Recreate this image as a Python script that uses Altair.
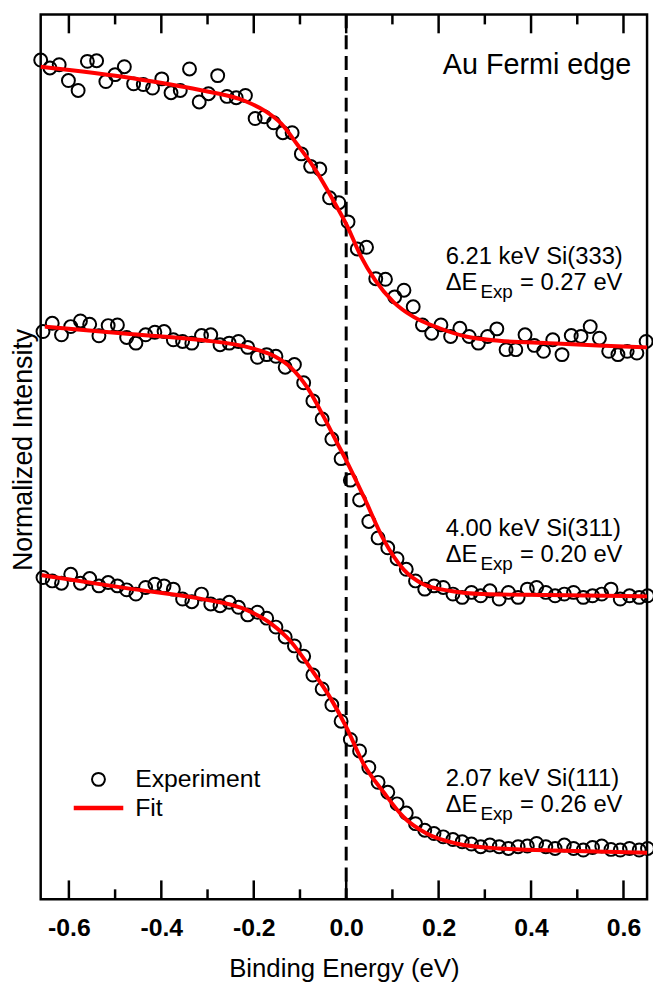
import altair as alt
import pandas as pd

FONT = "Liberation Sans"

# ---- data (binding energy in eV, intensity in offset arbitrary units) ----
energy_a = [-0.661, -0.641, -0.621, -0.601, -0.580, -0.560, -0.540, -0.520, -0.500, -0.480,
            -0.460, -0.439, -0.419, -0.399, -0.379, -0.359, -0.339, -0.318, -0.298, -0.278,
            -0.258, -0.238, -0.218, -0.197, -0.177, -0.157, -0.137, -0.117, -0.097, -0.077,
            -0.057, -0.036, -0.016, 0.004, 0.024, 0.044, 0.064, 0.085, 0.105, 0.125,
            0.145, 0.165, 0.185, 0.205, 0.226, 0.246, 0.266, 0.286, 0.306, 0.326,
            0.346, 0.367, 0.387, 0.407, 0.427, 0.447, 0.467, 0.487, 0.508, 0.528,
            0.548, 0.568, 0.588, 0.608, 0.629, 0.649]

energy_b = [-0.656, -0.636, -0.616, -0.596, -0.575, -0.555, -0.535, -0.515, -0.495, -0.475,
            -0.455, -0.434, -0.414, -0.394, -0.374, -0.354, -0.334, -0.313, -0.293, -0.273,
            -0.253, -0.233, -0.213, -0.192, -0.172, -0.152, -0.132, -0.112, -0.092, -0.072,
            -0.052, -0.031, -0.011, 0.009, 0.029, 0.049, 0.069, 0.090, 0.110, 0.130,
            0.150, 0.170, 0.190, 0.210, 0.231, 0.251, 0.271, 0.291, 0.311, 0.331,
            0.351, 0.372, 0.392, 0.412, 0.432, 0.452, 0.472, 0.492, 0.513, 0.533,
            0.553, 0.573, 0.593, 0.613, 0.634, 0.652]

exp_621 = [847, 839, 842.3, 826.3, 816.3, 845.7, 846.3, 825.3, 832.3, 840.3,
           823, 822.3, 818.7, 828, 814, 816.3, 838, 804.7, 813, 831.3,
           810.3, 809, 811.3, 788, 789.7, 783.7, 773.7, 773.7, 752.3, 739.7,
           737, 708, 703, 683.7, 656.3, 658, 626.3, 625.7, 608, 614.7,
           598, 579.7, 571.3, 579.7, 568, 576.3, 568, 561.3, 568, 575.7,
           554.7, 554.7, 569.7, 559, 553, 564.7, 549.7, 569, 568, 578,
           566.3, 553, 549.7, 553, 551.3, 563]

exp_400 = [573, 581.3, 569.7, 578, 583.7, 580.3, 568.7, 579, 579.7, 567,
           561.3, 569.7, 572.3, 573, 564.7, 563, 561.3, 569, 569.7, 559.7,
           561.3, 563, 557, 547, 549.7, 548, 537, 539.7, 521.3, 503,
           484.7, 464.5, 444.7, 423, 403, 381.3, 364.7, 354.7, 343.7, 333,
           321.3, 313, 316.3, 314.7, 308, 304.7, 309.7, 306.3, 311.3, 303,
           309.7, 304.7, 313, 314.7, 309.7, 306.3, 308, 309.7, 304.7, 306.3,
           308, 313, 303, 306.3, 304.7, 306.3]

exp_207 = [324.7, 321.3, 319, 328, 319, 323.7, 316.3, 319.7, 316.3, 312.3,
           308, 314.7, 318, 316.3, 313, 303, 300.3, 308, 298, 296.3,
           299.7, 294.7, 287, 289.7, 283.7, 274.7, 264.7, 255.7, 245.3, 226.3,
           212.3, 196.3, 179.7, 161.3, 149.7, 133, 118, 108, 96.3, 87,
           76.3, 69.7, 66.3, 63, 60.3, 58, 55.7, 53, 54.7, 53,
           51.3, 53, 53.7, 56.3, 53, 51.3, 54.7, 51.3, 49.7, 52.3,
           53.7, 50.3, 49.7, 51.3, 49.7, 51.3]

fit_621_e = [-0.661, -0.462, -0.319, -0.219, -0.176, -0.141, -0.105, -0.069, -0.023, 0.002,
             0.031, 0.063, 0.102, 0.145, 0.202, 0.259, 0.331, 0.438, 0.545, 0.651]
fit_621_i = [840.3, 828.7, 817, 805.7, 795.7, 783, 761.3, 738, 701.3, 679.7,
             649.7, 624.7, 603, 588, 576.3, 568, 563.7, 561.3, 559, 557]

fit_400_e = [-0.652, -0.462, -0.319, -0.205, -0.155, -0.119, -0.084, -0.048, -0.019, 0.0,
             0.038, 0.081, 0.124, 0.167, 0.224, 0.295, 0.438, 0.651]
fit_400_i = [578, 570.3, 564.7, 556.3, 548, 536.3, 516.3, 486.3, 460, 443,
             406.3, 363, 333, 318, 311.3, 308, 307, 305.7]

fit_207_e = [-0.659, -0.462, -0.319, -0.212, -0.162, -0.119, -0.077, -0.034, 0.0, 0.038,
             0.081, 0.124, 0.174, 0.238, 0.331, 0.474, 0.651]
fit_207_i = [327, 313, 303.7, 291.3, 278, 259.7, 233, 203, 174, 136.3,
             108, 83, 66.3, 56.3, 51.3, 49, 47]

series_names = ["6.21 keV Si(333)", "4.00 keV Si(311)", "2.07 keV Si(111)"]
resolution = ["0.27", "0.20", "0.26"]
label_e = [0.2154, 0.2154, 0.2154]
label_line1_i = [641, 367, 114]
label_line2_i = [615, 340, 88]

major_ticks = [-0.6, -0.4, -0.2, 0.0, 0.2, 0.4, 0.6]
minor_ticks = [-0.5, -0.3, -0.1, 0.1, 0.3, 0.5]

# ---- tables ----
pts = pd.DataFrame({
    "E": energy_a + energy_b + energy_b,
    "I": exp_621 + exp_400 + exp_207,
    "series": [series_names[0]] * len(exp_621) + [series_names[1]] * len(exp_400)
              + [series_names[2]] * len(exp_207),
})
fit_rows = []
for name, es, ys in zip(series_names, [fit_621_e, fit_400_e, fit_207_e],
                        [fit_621_i, fit_400_i, fit_207_i]):
    for k, (e, v) in enumerate(zip(es, ys)):
        fit_rows.append({"E": e, "I": v, "series": name, "idx": k})
fits = pd.DataFrame(fit_rows)

labels = pd.DataFrame({
    "E": label_e,
    "I1": label_line1_i,
    "I2": label_line2_i,
    "line1": series_names,
    "delta": ["\u0394E"] * 3,
    "sub": ["Exp"] * 3,
    "rest": ["= " + r + " eV" for r in resolution],
})

W, H = 612, 893
xscale = alt.Scale(domain=[-0.661, 0.651], nice=False, zero=False)
yscale = alt.Scale(domain=[0, 893], nice=False, zero=False)

xaxis = alt.Axis(values=major_ticks, format=".1f",
                 labelExpr="replace(datum.label, '\u2212', '-')",
                 ticks=False, domain=False, grid=False, labelFlush=False,
                 labelFont=FONT, labelFontSize=25, labelFontWeight="bold",
                 labelColor="black", labelPadding=17,
                 title="Binding Energy (eV)", titleFont=FONT, titleFontSize=26,
                 titleFontWeight="normal", titleColor="black", titlePadding=15)
yaxis = alt.Axis(labels=False, ticks=False, domain=False, grid=False,
                 title="Normalized Intensity", titleFont=FONT, titleFontSize=27,
                 titleFontWeight="normal", titleColor="black", titleAngle=-90,
                 titleX=-17, titleY=439, titleAlign="center", titleBaseline="middle")


def X(f="E:Q"):
    return alt.X(f, scale=xscale, axis=xaxis, title="Binding Energy (eV)")


def Y(f="I:Q"):
    return alt.Y(f, scale=yscale, axis=yaxis, title="Normalized Intensity")


points = alt.Chart(pts).mark_point(shape="circle", filled=False, size=170,
                                   strokeWidth=2, color="black", opacity=1).encode(
    x=X(), y=Y(), detail="series:N")

fit_lines = alt.Chart(fits).mark_line(color="#ff0000", strokeWidth=4,
                                      interpolate="monotone").encode(
    x=X(), y=Y(), detail="series:N", order="idx:Q")

zero_line = alt.Chart(pd.DataFrame({"E": [0.0]})).mark_rule(
    color="black", strokeWidth=3, strokeDash=[14, 7]).encode(x=X())

tick_major = pd.DataFrame({"t": major_ticks})
tick_minor = pd.DataFrame({"t": minor_ticks})
tick_layers = []
for df, L in [(tick_major, 19), (tick_minor, 10)]:
    tick_layers.append(alt.Chart(df).mark_rule(color="black", strokeWidth=2.5).encode(
        x=X("t:Q"), y=alt.value(H), y2=alt.value(H - L)))
    tick_layers.append(alt.Chart(df).mark_rule(color="black", strokeWidth=2.5).encode(
        x=X("t:Q"), y=alt.value(0), y2=alt.value(L)))

txt = dict(font=FONT, color="black", align="left", baseline="alphabetic")
line1 = alt.Chart(labels).mark_text(fontSize=24, **txt).encode(
    x=X(), y=Y("I1:Q"), text="line1:N")
delta = alt.Chart(labels).mark_text(fontSize=24, **txt).encode(
    x=X(), y=Y("I2:Q"), text="delta:N")
sub = alt.Chart(labels).mark_text(fontSize=19, dx=35, dy=8, **txt).encode(
    x=X(), y=Y("I2:Q"), text="sub:N")
rest = alt.Chart(labels).mark_text(fontSize=24, dx=75, **txt).encode(
    x=X(), y=Y("I2:Q"), text="rest:N")

title_df = pd.DataFrame({"E": [0.6167], "I": [833], "t": ["Au Fermi edge"]})
title_txt = alt.Chart(title_df).mark_text(fontSize=29, font=FONT, color="black",
                                          align="right", baseline="alphabetic").encode(
    x=X(), y=Y(), text="t:N")

# legend (drawn inside the plot, lower left)
leg_pt = alt.Chart(pd.DataFrame({"E": [-0.536], "I": [121]})).mark_point(
    shape="circle", filled=False, size=170, strokeWidth=2, color="black", opacity=1).encode(
    x=X(), y=Y())
leg_line = alt.Chart(pd.DataFrame({"E": [-0.5895], "E2": [-0.4823], "I": [92]})).mark_rule(
    color="#ff0000", strokeWidth=4.5).encode(x=X(), x2="E2:Q", y=Y())
leg_txt = alt.Chart(pd.DataFrame({"E": [-0.4566, -0.4566], "I": [113, 84],
                                  "t": ["Experiment", "Fit"]})).mark_text(
    fontSize=25, **txt).encode(x=X(), y=Y(), text="t:N")

chart = alt.layer(
    points, zero_line, *tick_layers, fit_lines, line1, delta, sub, rest, title_txt,
    leg_pt, leg_line, leg_txt
).properties(
    width=W, height=H,
    autosize=alt.AutoSizeParams(type="none"),
    padding={"left": 33, "top": 2, "right": 6, "bottom": 82},
).configure_view(stroke="black", strokeWidth=2.5)

chart.save("out.html", embed_options={"renderer": "svg", "actions": False})
